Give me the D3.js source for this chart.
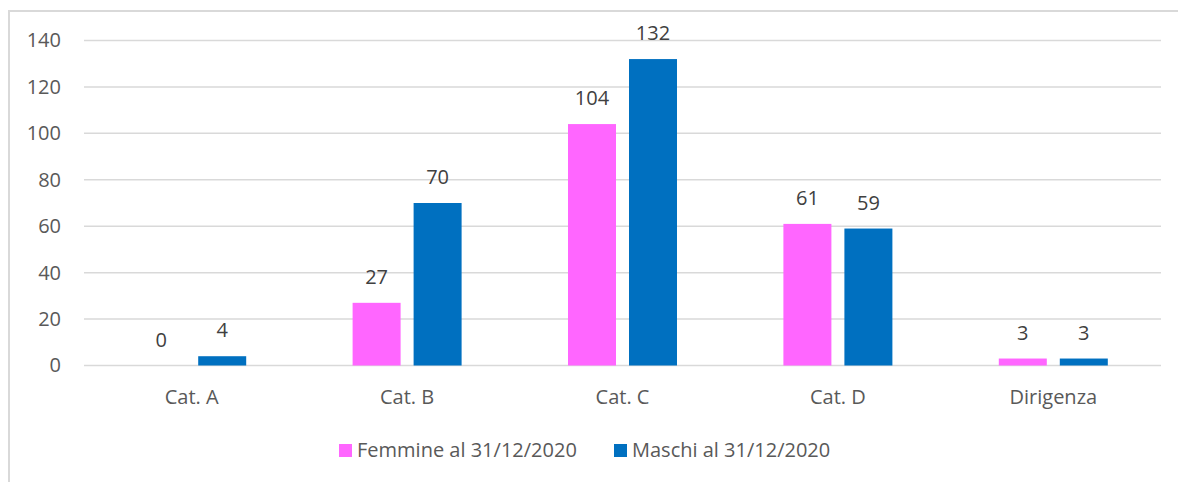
<!DOCTYPE html>
<html><head><meta charset="utf-8">
<script src="https://cdn.jsdelivr.net/npm/d3@7"></script>
<style>body{margin:0;background:#fff;} svg{display:block;} text{font-family:"Open Sans",sans-serif;fill:#595959;}</style>
</head><body><svg id="c" width="1178" height="482"></svg>
<script>
const categories = ["Cat. A","Cat. B","Cat. C","Cat. D","Dirigenza"];
const seriesNames = ["Femmine al 31/12/2020","Maschi al 31/12/2020"];
const femmine = [0,27,104,61,3];
const maschi = [4,70,132,59,3];
const yTicks = [0,20,40,60,80,100,120,140];
const colors = ["#FF66FF","#0070C0"];

(function(){
const svg = d3.select("#c");
svg.append("rect").attr("x",9).attr("y",11).attr("width",1250).attr("height",600)
  .attr("fill","none").attr("stroke","#d9d9d9").attr("stroke-width",2);

const pLeft=84, pRight=1161, pTop=40.5, pBottom=365.5;
const x0 = d3.scaleBand().domain(categories).range([pLeft,pRight]).padding(0);
const x1 = d3.scaleBand().domain(seriesNames).range([-54.5,54.5]).paddingInner(13/61).paddingOuter(0);
const y = d3.scaleLinear().domain([0,140]).range([pBottom,pTop]);

svg.append("g").selectAll("line").data(yTicks).join("line")
  .attr("x1",pLeft).attr("x2",pRight).attr("y1",d=>y(d)).attr("y2",d=>y(d))
  .attr("stroke","#d9d9d9").attr("stroke-width",1.5);

const yAxis = d3.axisLeft(y).tickValues(yTicks).tickSize(0).tickPadding(0);
const ga = svg.append("g").attr("transform",`translate(61,0)`).call(yAxis);
ga.select(".domain").remove();
ga.selectAll("text").attr("font-size",20).attr("font-family","'Open Sans',sans-serif").attr("fill","#595959").attr("dy","0.32em");

const xAxis = d3.axisBottom(x0).tickSize(0).tickPadding(0);
const gx = svg.append("g").attr("transform",`translate(0,${pBottom})`).call(xAxis);
gx.select(".domain").remove();
gx.selectAll("text").attr("font-size",20).attr("font-family","'Open Sans',sans-serif").attr("fill","#595959").attr("dy",null).attr("y",38);

const data = [femmine, maschi];
data.forEach((vals,si)=>{
  const g = svg.append("g");
  g.selectAll("rect").data(vals).join("rect")
    .attr("x",(d,i)=>x0(categories[i])+x0.bandwidth()/2+x1(seriesNames[si]))
    .attr("width",x1.bandwidth())
    .attr("y",d=>y(d)).attr("height",d=>y(0)-y(d))
    .attr("fill",colors[si]);
  g.selectAll("text").data(vals).join("text")
    .attr("x",(d,i)=>x0(categories[i])+x0.bandwidth()/2+x1(seriesNames[si])+x1.bandwidth()/2)
    .attr("y",d=>y(d)-19).attr("text-anchor","middle").attr("font-size",20)
    .style("fill","#404040").text(d=>d);
});

const legX = [339,614];
const lg = svg.append("g");
seriesNames.forEach((s,i)=>{
  lg.append("rect").attr("x",legX[i]).attr("y",444).attr("width",13).attr("height",13).attr("fill",colors[i]);
  lg.append("text").attr("x",legX[i]+18).attr("y",457).attr("font-size",20).text(s);
});
})();
</script></body></html>
